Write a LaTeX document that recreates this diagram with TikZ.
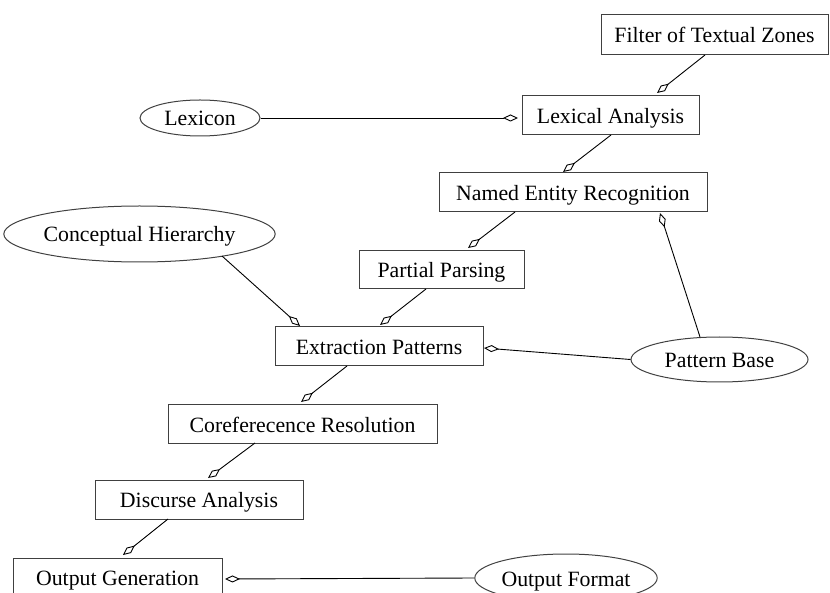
\documentclass[tikz,border=0pt]{standalone}
\usepackage{fontspec}
\setmainfont{Liberation Serif}
\usetikzlibrary{shapes.geometric,arrows.meta,calc}
\begin{document}
\begin{tikzpicture}[x=1pt,y=-1pt,
  every node/.style={font=\fontsize{21.8pt}{24pt}\selectfont, inner sep=0pt, text height=16pt, text depth=0pt},
  boxnode/.style={draw=black!75, line width=1pt, rectangle},
  ellnode/.style={draw=black!75, line width=1pt, ellipse},
  conn/.style={draw=black, line width=0.9pt, -{Diamond[open,length=15pt,width=7pt,line width=0.9pt]}}]
\useasboundingbox (0,0) rectangle (830,593);
% boxes
\node[boxnode, minimum width=227pt, minimum height=40pt] (filter) at (714.5,35) {Filter of Textual Zones};
\node[boxnode, minimum width=177pt, minimum height=39pt] (lexan) at (610.5,115.5) {Lexical Analysis};
\node[boxnode, minimum width=268pt, minimum height=39pt] (ner) at (573,192.5) {Named Entity Recognition};
\node[boxnode, minimum width=165pt, minimum height=38pt] (partial) at (441.5,270) {Partial Parsing};
\node[boxnode, minimum width=208pt, minimum height=39pt] (extract) at (379,346.5) {Extraction Patterns};
\node[boxnode, minimum width=269pt, minimum height=38pt] (coref) at (302.5,424) {Coreferecence Resolution};
\node[boxnode, minimum width=208pt, minimum height=39pt] (discurse) at (199,499.5) {Discurse Analysis};
\node[boxnode, minimum width=209pt, minimum height=39pt] (outgen) at (117.5,577.5) {Output Generation};
% ellipses
\node[ellnode, minimum width=120pt, minimum height=36pt] (lexicon) at (200,118) {Lexicon};
\node[ellnode, minimum width=255pt, minimum height=56pt] (concept) at (139.5,234) {Conceptual Hierarchy};
\node[ellnode, minimum width=177pt, minimum height=45pt] (patbase) at (719.5,359.5) {Pattern Base};
\node[ellnode, minimum width=174pt, minimum height=48pt] (outformat) at (566,578) {Output Format};
% connectors
\draw[conn] ($(filter)+(-9.5,20)$) -- ($(lexan)+(46.5,-22.5)$);
\draw[conn] (lexicon.east) -- ($(lexan)+(-92.5,2.5)$);
\draw[conn] ($(lexan)+(0.5,19.5)$) -- ($(ner)+(-10,-20.5)$);
\draw[conn] ($(ner)+(-58,19.5)$) -- ($(partial)+(26.5,-22)$);
\draw[conn] ($(patbase)+(-19.5,-22.5)$) -- ($(ner)+(87,20.5)$);
\draw[conn] ($(concept)+(82.5,22)$) -- ($(extract)+(-79,-20.5)$);
\draw[conn] ($(partial)+(-15.5,19)$) -- ($(extract)+(1,-21.5)$);
\draw[conn] (patbase.west) -- ($(extract)+(105,1.5)$);
\draw[conn] ($(extract)+(-32,19.5)$) -- ($(coref)+(-1.5,-22)$);
\draw[conn] ($(coref)+(-47.5,19)$) -- ($(discurse)+(9,-21.5)$);
\draw[conn] ($(discurse)+(-31,19.5)$) -- ($(outgen)+(5.5,-22.5)$);
\draw[conn] (outformat.west) -- ($(outgen)+(107.5,1.5)$);
\end{tikzpicture}
\end{document}
